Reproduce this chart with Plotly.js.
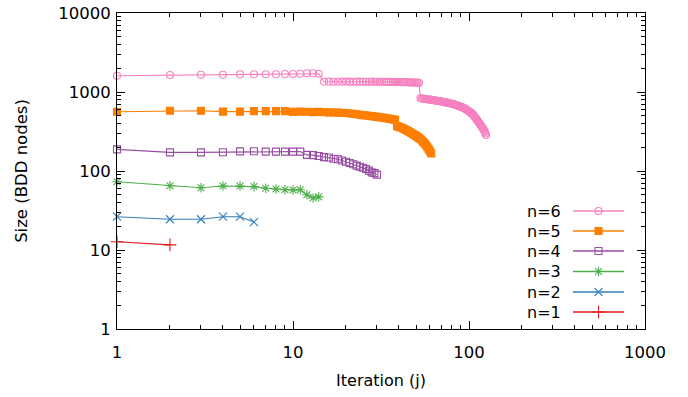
<!DOCTYPE html>
<html>
<head>
<meta charset="utf-8">
<script src="https://cdn.plot.ly/plotly-3.0.1.min.js"></script>
<style>html,body{margin:0;padding:0;background:#fff;}#chart{width:688px;height:397px;}</style>
</head>
<body>
<div id="chart"></div>
<script>
// Series labels
const seriesNames = ["n=6", "n=5", "n=4", "n=3", "n=2", "n=1"];

// BDD size per iteration j (j = 1, 2, 3, ...)
const sizeN6 = [1608, 1641, 1650, 1650, 1675, 1675, 1680, 1680, 1690, 1690, 1700, 1725, 1725, 1700,
  1350, 1352, 1348, 1350, 1352, 1355, 1353, 1350, 1352, 1355, 1350, 1348, 1350, 1352, 1350, 1348,
  1345, 1347, 1345, 1342, 1340, 1342, 1340, 1338, 1335, 1337, 1335, 1332, 1330, 1328, 1330, 1325,
  1322, 1320, 1318, 1315, 1312, 1310,
  833, 828, 822, 818, 814, 810, 806, 800, 796, 792, 787, 783, 778, 774, 770, 766, 761, 756, 752,
  747, 743, 738, 733, 729, 724, 719, 714, 709, 704, 698, 693, 687, 681, 675, 669, 662, 656, 650,
  643, 636, 629, 621, 613, 605, 597, 588, 579, 570, 560, 550, 540, 529, 518, 506, 494, 482, 469,
  455, 443, 431, 419, 407, 396, 386, 376, 366, 356, 346, 335, 323, 311, 298, 285];
const sizeN5 = [563, 580, 580, 565, 565, 572, 572, 572, 572, 560, 565, 563, 556, 560, 555, 552, 550,
  548, 545, 542, 535, 530, 522, 515, 510, 505, 500, 495, 490, 485, 480, 475, 470, 465, 460, 455,
  450, 445,
  370, 362, 355, 347, 338, 330, 321, 312, 303, 294, 286, 278, 270, 261, 252, 243, 233, 223, 212,
  200, 189, 178, 167];
const sizeN4 = [188, 172, 172, 173, 177, 178, 176, 176, 176, 176, 176, 160, 159, 155, 150, 148, 143,
  141, 136, 131, 126, 122, 117, 113, 110, 106, 101, 96, 94, 90];
const sizeN3 = [73, 65, 61.5, 64.6, 64.6, 63.5, 60.4, 59.2, 58, 57.5, 58, 50, 45.5, 47];
const sizeN2 = [26.4, 24.5, 24.5, 26.4, 26.4, 22.6];
const sizeN1 = [12.7, 11.6];

// Axis tick labels
const xTickVals = [1, 10, 100, 1000];
const xTickText = ["1", "10", "100", "1000"];
const yTickVals = [1, 10, 100, 1000, 10000];
const yTickText = ["1", "10", "100", "1000", "10000"];

const allSizes = [sizeN6, sizeN5, sizeN4, sizeN3, sizeN2, sizeN1];
const colors = ["#f781bf", "#ff7f00", "#984ea3", "#4daf4a", "#377eb8", "#e41a1c"];
const symbols = ["circle-open", "square", "square-open", "asterisk-open", "x-thin-open", "cross-thin-open"];
const msizes = [7, 7, 7, 8, 8, 9];

function minorVals(lo, hi) {
  const v = [];
  for (let d = lo; d < hi; d++) for (let k = 2; k <= 9; k++) v.push(k * Math.pow(10, d));
  return v;
}

const traces = [];
allSizes.forEach((ys, s) => {
  const xs = ys.map((_, i) => i + 1);
  traces.push({
    x: xs, y: ys, type: "scatter", mode: "lines+markers", showlegend: false,
    line: {color: colors[s], width: 1.1},
    marker: {symbol: symbols[s], size: msizes[s], color: colors[s], line: {color: colors[s], width: 1.1}},
    cliponaxis: false
  });
});

// Legend (symbol to the right of the text, gnuplot style) drawn on a pixel overlay axis
const legendRowY = [211, 231, 251, 271.5, 292, 312];
const legendX = [573, 598.5, 624];
const annotations = [];
seriesNames.forEach((name, s) => {
  traces.push({
    x: legendX, y: [legendRowY[s], legendRowY[s], legendRowY[s]],
    xaxis: "x2", yaxis: "y2", type: "scatter", mode: "lines+markers", showlegend: false,
    hoverinfo: "skip", cliponaxis: false,
    line: {color: colors[s], width: 1.4},
    marker: {symbol: symbols[s], size: msizes[s], color: colors[s], opacity: [0, 1, 0],
      line: {color: colors[s], width: 1.1}}
  });
  annotations.push({
    x: 563, y: legendRowY[s], xref: "x2", yref: "y2", text: name, showarrow: false,
    xanchor: "right", yanchor: "middle", font: {family: "DejaVu Sans", size: 16, color: "#000"}
  });
});

const axisCommon = {
  type: "log", showgrid: false, zeroline: false, showline: true, linecolor: "#000", linewidth: 1,
  mirror: "ticks", ticks: "inside", ticklen: 8, tickwidth: 1, tickcolor: "#000",
  tickmode: "array",
  tickfont: {family: "DejaVu Sans", size: 16.5, color: "#000"}
};

const layout = {
  width: 688, height: 397,
  margin: {l: 117, r: 43, t: 13, b: 68, pad: 0},
  paper_bgcolor: "#fff", plot_bgcolor: "#fff",
  font: {family: "DejaVu Sans", size: 16, color: "#000"},
  showlegend: false,
  xaxis: Object.assign({}, axisCommon, {
    range: [0, 3], tickvals: xTickVals, ticktext: xTickText,
    minor: {tickmode: "array", tickvals: minorVals(0, 3), ticks: "inside", ticklen: 4, tickcolor: "#000", showgrid: false},
    ticklabelstandoff: 8,
    title: {text: "Iteration (j)", font: {family: "DejaVu Sans", size: 16, color: "#000"}, standoff: 14}
  }),
  yaxis: Object.assign({}, axisCommon, {
    range: [0, 4], tickvals: yTickVals, ticktext: yTickText,
    minor: {tickmode: "array", tickvals: minorVals(0, 4), ticks: "inside", ticklen: 4, tickcolor: "#000", showgrid: false},
    ticklabelstandoff: 2,
    title: {text: "Size (BDD nodes)", font: {family: "DejaVu Sans", size: 16.5, color: "#000"}, standoff: 26}
  }),
  xaxis2: {overlaying: "x", range: [117, 645], visible: false, fixedrange: true},
  yaxis2: {overlaying: "y", range: [329, 13], visible: false, fixedrange: true},
  annotations: annotations
};

Plotly.newPlot("chart", traces, layout, {staticPlot: true, displayModeBar: false});
</script>
</body>
</html>
